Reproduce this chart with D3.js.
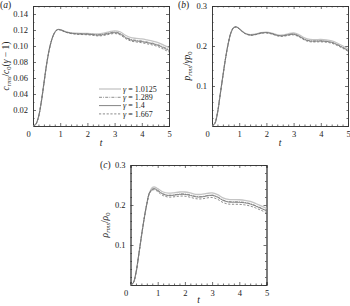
<!DOCTYPE html>
<html>
<head>
<meta charset="utf-8">
<script src="https://cdn.jsdelivr.net/npm/d3@7"></script>
<style>
  body { margin: 0; background: #fff; }
  svg { display: block; font-family: "Liberation Serif", "DejaVu Serif", serif; }
</style>
</head>
<body>
<div id="chart-area"></div>
<script>
// time samples shared by every series
const tValues = [0, 0.1, 0.2, 0.3, 0.4, 0.5, 0.6, 0.7, 0.8, 0.9, 1.0,
  1.2, 1.4, 1.6, 1.8, 2.0, 2.2, 2.4, 2.6, 2.8, 3.0,
  3.2, 3.4, 3.6, 3.8, 4.0, 4.2, 4.4, 4.6, 4.8, 5.0];

const gammaLabels = ['1.0125', '1.289', '1.4', '1.667'];

// (a) c_rms / c0(gamma-1)
const cRms10125 = [0, 0.002, 0.011, 0.029, 0.053, 0.077, 0.096, 0.109, 0.117, 0.1205, 0.1205,
  0.118, 0.1165, 0.116, 0.1158, 0.1157, 0.1153, 0.115, 0.116, 0.1177, 0.119,
  0.1178, 0.1135, 0.1105, 0.1095, 0.1088, 0.1076, 0.1062, 0.1042, 0.1012, 0.098];
const cRms1289 = [0, 0.002, 0.011, 0.029, 0.053, 0.077, 0.096, 0.109, 0.117, 0.1205, 0.1204,
  0.1178, 0.1162, 0.1155, 0.1153, 0.115, 0.1145, 0.114, 0.1148, 0.1162, 0.1174,
  0.1158, 0.1112, 0.1083, 0.1071, 0.1063, 0.105, 0.1036, 0.1016, 0.0987, 0.0955];
const cRms14 = [0, 0.002, 0.011, 0.029, 0.053, 0.077, 0.096, 0.109, 0.117, 0.1205, 0.1203,
  0.1175, 0.116, 0.1152, 0.115, 0.1148, 0.1142, 0.1136, 0.1143, 0.1157, 0.1168,
  0.1152, 0.1105, 0.1075, 0.1063, 0.1055, 0.1042, 0.1028, 0.1008, 0.0978, 0.0945];
const cRms1667 = [0, 0.002, 0.011, 0.029, 0.053, 0.077, 0.096, 0.109, 0.117, 0.1203, 0.12,
  0.1172, 0.1155, 0.1146, 0.1143, 0.114, 0.1133, 0.1126, 0.1132, 0.1146, 0.1156,
  0.114, 0.1093, 0.1062, 0.105, 0.1041, 0.1027, 0.1012, 0.0992, 0.096, 0.0925];

// (b) p_rms / gamma p0
const pRms10125 = [0, 0.006, 0.032, 0.078, 0.125, 0.17, 0.207, 0.234, 0.2465, 0.248, 0.2435,
  0.2325, 0.2282, 0.2298, 0.2333, 0.2345, 0.2322, 0.228, 0.2275, 0.2305, 0.2325,
  0.228, 0.2202, 0.2163, 0.216, 0.2163, 0.2153, 0.2128, 0.2075, 0.2005, 0.193];
const pRms1289 = [0, 0.006, 0.032, 0.078, 0.125, 0.17, 0.207, 0.234, 0.2462, 0.2477, 0.2432,
  0.2322, 0.2277, 0.2292, 0.2326, 0.2337, 0.2312, 0.2268, 0.2258, 0.2283, 0.2298,
  0.2249, 0.2169, 0.2129, 0.2126, 0.2129, 0.2119, 0.2094, 0.204, 0.197, 0.1895];
const pRms14 = [0, 0.006, 0.032, 0.078, 0.125, 0.17, 0.207, 0.234, 0.246, 0.2475, 0.243,
  0.232, 0.2275, 0.229, 0.2325, 0.2335, 0.231, 0.2265, 0.2255, 0.228, 0.2295,
  0.2245, 0.2165, 0.2125, 0.2122, 0.2125, 0.2115, 0.209, 0.2035, 0.1965, 0.189];
const pRms1667 = [0, 0.006, 0.032, 0.078, 0.125, 0.17, 0.207, 0.234, 0.2458, 0.2472, 0.2426,
  0.2315, 0.2268, 0.2282, 0.2315, 0.2324, 0.2298, 0.2252, 0.224, 0.2264, 0.2278,
  0.2228, 0.2147, 0.2106, 0.2102, 0.2104, 0.2094, 0.2069, 0.2014, 0.1944, 0.187];

// (c) rho_rms / rho0
const rRms10125 = [0, 0.005, 0.03, 0.074, 0.121, 0.165, 0.203, 0.231, 0.2435, 0.2448, 0.2408,
  0.2325, 0.2295, 0.2305, 0.2325, 0.2325, 0.2302, 0.2268, 0.2265, 0.2288, 0.2302,
  0.2258, 0.2178, 0.2138, 0.2133, 0.2131, 0.2118, 0.2088, 0.2038, 0.1978, 0.1915];
const rRms1289 = [0, 0.005, 0.03, 0.074, 0.121, 0.165, 0.203, 0.231, 0.2395, 0.241, 0.2368,
  0.228, 0.2245, 0.2255, 0.2275, 0.2275, 0.225, 0.2215, 0.221, 0.2235, 0.225,
  0.2205, 0.2125, 0.2085, 0.208, 0.2078, 0.2065, 0.2035, 0.1985, 0.1925, 0.1865];
const rRms14 = [0, 0.005, 0.03, 0.074, 0.121, 0.165, 0.203, 0.231, 0.239, 0.2405, 0.236,
  0.227, 0.2235, 0.2245, 0.2265, 0.2265, 0.224, 0.2205, 0.22, 0.2225, 0.224,
  0.2195, 0.2115, 0.2075, 0.207, 0.2068, 0.2055, 0.2025, 0.1975, 0.1915, 0.1855];
const rRms1667 = [0, 0.005, 0.03, 0.074, 0.121, 0.165, 0.202, 0.229, 0.237, 0.238, 0.2332,
  0.2235, 0.2198, 0.2205, 0.2222, 0.222, 0.2193, 0.2158, 0.2152, 0.2175, 0.2188,
  0.2143, 0.2063, 0.2023, 0.2018, 0.2016, 0.2003, 0.1975, 0.1927, 0.1868, 0.181];

const yTicksA = [0.02, 0.04, 0.06, 0.08, 0.10, 0.12, 0.14];
const yTicksBC = [0.1, 0.2, 0.3];
const xTicks = [0, 1, 2, 3, 4, 5];

const widthSvg = 350;
const heightSvg = 306;

// line styles, one per gamma
const styles = [
  { stroke: '#c4c4c4', width: 1.3, dash: null },
  { stroke: '#5e5e5e', width: 0.7, dash: '3,1.2,0.8,1.2' },
  { stroke: '#858585', width: 1, dash: null },
  { stroke: '#6e6e6e', width: 0.8, dash: '2.2,1.6' }
];

const panels = [
  { id: 'a', left: 33, top: 6, series: [cRms10125, cRms1289, cRms14, cRms1667],
    yMax: 0.15, yTicks: yTicksA, yMinor: 0.01, fmt: '.2f', labelX: 0, labelY: 8, xLabelDy: 20 },
  { id: 'b', left: 212, top: 6, series: [pRms10125, pRms1289, pRms14, pRms1667],
    yMax: 0.3, yTicks: yTicksBC, yMinor: 0.02, fmt: '.1f', labelX: 178, labelY: 8, xLabelDy: 20 },
  { id: 'c', left: 130.5, top: 165, series: [rRms10125, rRms1289, rRms14, rRms1667],
    yMax: 0.3, yTicks: yTicksBC, yMinor: 0.02, fmt: '.1f', labelX: 100, labelY: 168, xLabelDy: 18 }
];

const w = 136;
const h = 120;
const ink = '#222';

const svg = d3.select('#chart-area')
  .append('svg')
    .attr('width', widthSvg)
    .attr('height', heightSvg);

const minorX = d3.range(0, 5.0001, 0.2).map(v => +v.toFixed(1)).filter(v => !xTicks.includes(v));

panels.forEach(p => {
  const scaleX = d3.scaleLinear().domain([0, 5]).range([0, w]);
  const scaleY = d3.scaleLinear().domain([0, p.yMax]).range([h, 0]);

  const g = svg.append('g')
    .attr('transform', `translate(${p.left}, ${p.top})`);

  const minorY = d3.range(0, p.yMax + 1e-9, p.yMinor)
    .map(v => +v.toFixed(3))
    .filter(v => !p.yTicks.some(t => Math.abs(t - v) < 1e-6) && v > 0 && v < p.yMax);

  // minor ticks on all sides
  g.append('g').attr('transform', `translate(0, ${h})`)
    .call(d3.axisBottom(scaleX).tickValues(minorX).tickSize(-1.5).tickFormat(''));
  g.append('g')
    .call(d3.axisTop(scaleX).tickValues(minorX).tickSize(-1.5).tickFormat(''));
  g.append('g')
    .call(d3.axisLeft(scaleY).tickValues(minorY).tickSize(-1.5).tickFormat(''));
  g.append('g').attr('transform', `translate(${w}, 0)`)
    .call(d3.axisRight(scaleY).tickValues(minorY).tickSize(-1.5).tickFormat(''));

  // major ticks
  const axX = g.append('g').attr('transform', `translate(0, ${h})`)
    .call(d3.axisBottom(scaleX).tickValues(xTicks).tickSize(-3).tickPadding(5).tickFormat(d3.format('d')));
  axX.selectAll('.tick').filter(d => d === 0).select('text').attr('dx', -5);
  g.append('g')
    .call(d3.axisTop(scaleX).tickValues(xTicks).tickSize(-3).tickFormat(''));
  g.append('g')
    .call(d3.axisLeft(scaleY).tickValues(p.yTicks).tickSize(-3).tickPadding(5).tickFormat(d3.format(p.fmt)));
  g.append('g').attr('transform', `translate(${w}, 0)`)
    .call(d3.axisRight(scaleY).tickValues(p.yTicks).tickSize(-3).tickFormat(''));

  g.selectAll('.domain').attr('stroke', '#333').attr('stroke-width', 0.8);
  g.selectAll('.tick line').attr('stroke', '#333').attr('stroke-width', 0.7);
  g.selectAll('.tick text')
    .attr('font-family', '"Liberation Serif", serif')
    .attr('font-size', 8.5)
    .attr('fill', ink);

  const line = d3.line()
    .x((d, i) => scaleX(tValues[i]))
    .y(d => scaleY(d))
    .curve(d3.curveCatmullRom);

  p.series.forEach((s, i) => {
    g.append('path')
      .datum(s)
      .attr('fill', 'none')
      .attr('stroke', styles[i].stroke)
      .attr('stroke-width', styles[i].width)
      .attr('stroke-dasharray', styles[i].dash)
      .attr('d', line);
  });

  // x label
  g.append('text')
    .attr('x', w / 2)
    .attr('y', h + p.xLabelDy)
    .attr('text-anchor', 'middle')
    .attr('font-style', 'italic')
    .attr('font-size', 9.5)
    .attr('fill', ink)
    .text('t');

  // panel letter
  const pl = svg.append('text')
    .attr('x', p.labelX)
    .attr('y', p.labelY)
    .attr('font-size', 9.5)
    .attr('fill', ink);
  pl.append('tspan').text('(');
  pl.append('tspan').attr('font-style', 'italic').text(p.id);
  pl.append('tspan').text(')');
});

// y labels
const yLabel = (x, y) => svg.append('text')
  .attr('transform', `translate(${x}, ${y}) rotate(-90)`)
  .attr('text-anchor', 'middle')
  .attr('font-size', 9.5)
  .attr('fill', ink);

const la = yLabel(9, 66);
la.append('tspan').attr('font-style', 'italic').text('c');
la.append('tspan').attr('font-style', 'italic').attr('font-size', 6.5).attr('dy', 2).text('rms');
la.append('tspan').attr('dy', -2).text('/');
la.append('tspan').attr('font-style', 'italic').text('c');
la.append('tspan').attr('font-size', 6.5).attr('dy', 2).text('0');
la.append('tspan').attr('dy', -2).text('(');
la.append('tspan').attr('font-style', 'italic').text('γ');
la.append('tspan').text(' − 1)');

const lb = yLabel(190, 66);
lb.append('tspan').attr('font-style', 'italic').text('p');
lb.append('tspan').attr('font-style', 'italic').attr('font-size', 6.5).attr('dy', 2).text('rms');
lb.append('tspan').attr('dy', -2).text('/');
lb.append('tspan').attr('font-style', 'italic').text('γp');
lb.append('tspan').attr('font-size', 6.5).attr('dy', 2).text('0');

const lc = yLabel(108, 225);
lc.append('tspan').attr('font-style', 'italic').text('ρ');
lc.append('tspan').attr('font-style', 'italic').attr('font-size', 6.5).attr('dy', 2).text('rms');
lc.append('tspan').attr('dy', -2).text('/');
lc.append('tspan').attr('font-style', 'italic').text('ρ');
lc.append('tspan').attr('font-size', 6.5).attr('dy', 2).text('0');

// legend in panel (a)
const legend = svg.append('g')
  .attr('transform', 'translate(99, 89)');

gammaLabels.forEach((gm, i) => {
  const row = legend.append('g')
    .attr('transform', `translate(0, ${i * 8.3})`);
  row.append('line')
    .attr('x1', 0).attr('x2', 22)
    .attr('stroke', styles[i].stroke)
    .attr('stroke-width', styles[i].width)
    .attr('stroke-dasharray', styles[i].dash);
  const t = row.append('text')
    .attr('x', 24)
    .attr('y', 2.8)
    .attr('font-size', 8)
    .attr('fill', ink);
  t.append('tspan').attr('font-style', 'italic').text('γ');
  t.append('tspan').text(' = ' + gm);
});
</script>
</body>
</html>
